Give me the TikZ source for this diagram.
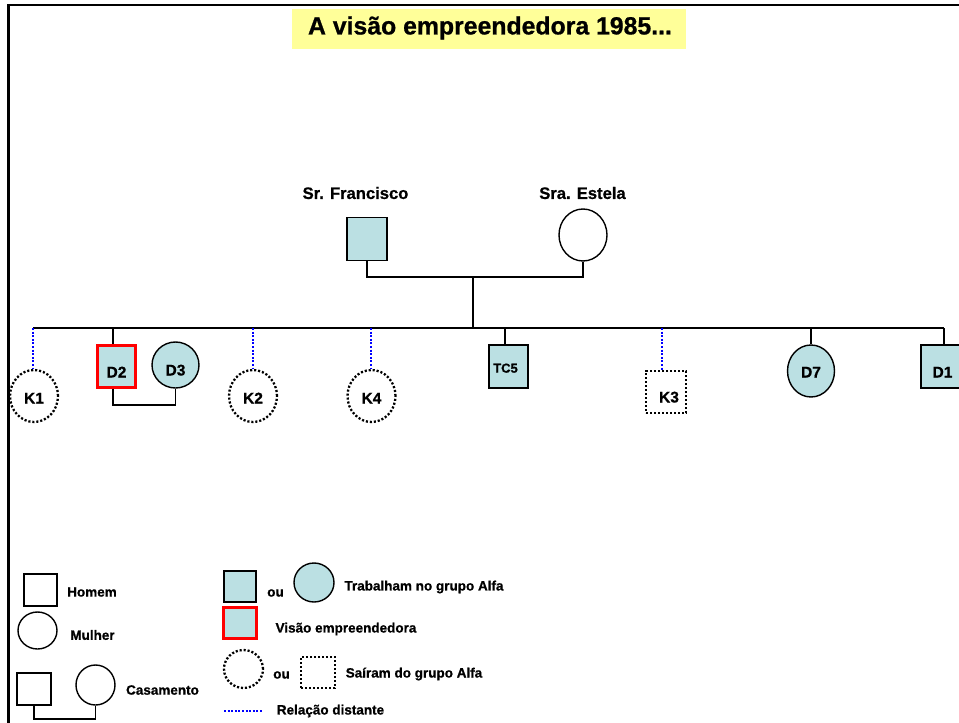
\documentclass[tikz,border=0pt]{standalone}
\usepackage{fontspec}
\setmainfont[BoldFeatures={FakeBold=0.8}]{Liberation Sans}
\usetikzlibrary{shapes.geometric}
\definecolor{alfa}{HTML}{BBE0E3}
\definecolor{ttl}{HTML}{FFFF99}
\newcommand\dn[2]{\raisebox{-#1pt}{#2}}
\begin{document}
\begin{tikzpicture}[x=1pt,y=-1pt,line width=1.4pt,
  sq/.style={draw,rectangle,inner sep=0pt},
  circ/.style={draw,ellipse,inner sep=0pt},
  work/.style={fill=alfa},
  vis/.style={draw=red,line width=2.3pt},
  left/.style={dash pattern=on 2.1pt off 1.9pt,line width=2.3pt},
  reld/.style={draw=blue,dash pattern=on 2pt off 1.6pt,line width=2.4pt},
  kid/.style={font=\bfseries\fontsize{15.5}{17}\selectfont,text height=11pt,text depth=0pt},
  big/.style={font=\bfseries\fontsize{16.6}{18}\selectfont},
  leg/.style={font=\bfseries\fontsize{13.5}{15}\selectfont},
  ]
\useasboundingbox (0,0) rectangle (959,723);
\fill[white] (0,0) rectangle (959,723);
% frame
\draw[line width=2.6pt] (8.5,723) -- (8.5,5) -- (960,5);
% title
\fill[ttl] (292,8.5) rectangle (686,49);
\node[font=\bfseries\fontsize{24.8}{27}\selectfont] (title) at (490,28) {A visão empreendedora 1985...};
% parents
\node[sq,work,minimum width=40pt,minimum height=43pt] (fran) at (367,239) {};
\node[big] (franl) at (355.5,193) {Sr. Francisco};
\node[circ,minimum width=48pt,minimum height=52pt] (estela) at (583,235) {};
\node[big] (estl) at (582.5,193) {Sra. Estela};
\coordinate (cpl) at (473,277);
\coordinate (sib) at (473,328);
\draw (fran.south) |- (cpl) -| (estela.south);
\draw (cpl) -- (sib);
% children
\coordinate (sl) at (33,328);
\coordinate (sr) at (944,328);
\draw (sl) -- (sr);
\node[circ,left,minimum width=48pt,minimum height=52pt,kid] (k1) at (34,396) {\dn{2}{K1}};
\node[sq,work,vis,minimum width=38pt,minimum height=42pt,kid] (d2) at (116.5,366.5) {\dn{5.5}{D2}};
\node[circ,work,minimum width=47pt,minimum height=46pt,kid] (d3) at (175.5,365) {\dn{5}{D3}};
\node[circ,left,minimum width=48pt,minimum height=52pt,kid] (k2) at (253,396) {\dn{2}{K2}};
\node[circ,left,minimum width=48pt,minimum height=52pt,kid] (k4) at (371.5,396) {\dn{2}{K4}};
\node[sq,work,minimum width=39pt,minimum height=43pt,font=\bfseries\fontsize{13}{15}\selectfont,text height=9.3pt,text depth=0pt] (tc5) at (508.5,366.5) {\hspace*{-6pt}\dn{1.5}{TC5}};
\node[sq,left,minimum width=40pt,minimum height=42pt,kid] (k3) at (666,392) {\hspace*{6pt}\dn{5}{K3}};
\node[circ,work,minimum width=47pt,minimum height=52pt,kid] (d7) at (811,371) {\dn{1}{D7}};
\node[sq,work,minimum width=39pt,minimum height=43pt,kid] (d1) at (940.5,366.5) {\hspace*{4pt}\dn{5.5}{D1}};
\coordinate (j1) at (33,328);
\coordinate (j2) at (113,328);
\coordinate (j3) at (253,328);
\coordinate (j4) at (371,328);
\coordinate (j5) at (505,328);
\coordinate (j6) at (662,328);
\coordinate (j7) at (811,328);
\coordinate (j8) at (944,328);
\draw[reld] (j1) -- (j1 |- k1.north);
\draw (j2) -- (j2 |- d2.north);
\draw[reld] (j3) -- (j3 |- k2.north);
\draw[reld] (j4) -- (j4 |- k4.north);
\draw (j5) -- (j5 |- tc5.north);
\draw[reld] (j6) -- (j6 |- k3.north);
\draw (j7) -- (j7 |- d7.north);
\draw (j8) -- (j8 |- d1.north);
\coordinate (m23) at (113,405);
\draw (j2 |- d2.south) -- (m23) -| (d3.south);
% legend
\node[sq,minimum width=33pt,minimum height=32pt] (lh) at (40.5,590) {};
\node[leg] (lht) at (92,592) {Homem};
\node[circ,minimum width=39pt,minimum height=37pt] (lm) at (37.5,630.5) {};
\node[leg] (lmt) at (92.5,635) {Mulher};
\node[sq,minimum width=34pt,minimum height=32pt] (lcs) at (34,689) {};
\node[circ,minimum width=39pt,minimum height=40pt] (lcc) at (95.5,685) {};
\coordinate (lcm) at (34,719);
\draw (lcs.south) -- (lcm) -| (lcc.south);
\node[leg] (lct) at (162.5,690) {Casamento};
\node[sq,work,minimum width=32pt,minimum height=31pt] (lw1) at (240,586.5) {};
\node[leg] (lwo) at (275.5,593) {ou};
\node[circ,work,minimum width=40pt,minimum height=39pt] (lw2) at (314,582.5) {};
\node[leg] (lwt) at (424,587) {Trabalham no grupo Alfa};
\node[sq,work,vis,minimum width=33pt,minimum height=31pt] (lv) at (240,623) {};
\node[leg] (lvt) at (346,629) {Visão empreendedora};
\node[circ,left,minimum width=39pt,minimum height=38pt] (ls1) at (243.5,669) {};
\node[leg] (lso) at (281.5,675) {ou};
\node[sq,left,minimum width=34pt,minimum height=31pt] (ls2) at (318,672.5) {};
\node[leg] (lst) at (414,674) {Saíram do grupo Alfa};
\coordinate (lr1) at (224,711);
\coordinate (lr2) at (263,711);
\draw[reld] (lr1) -- (lr2);
\node[leg] (lrt) at (330.5,711) {Relação distante};
\end{tikzpicture}
\end{document}
